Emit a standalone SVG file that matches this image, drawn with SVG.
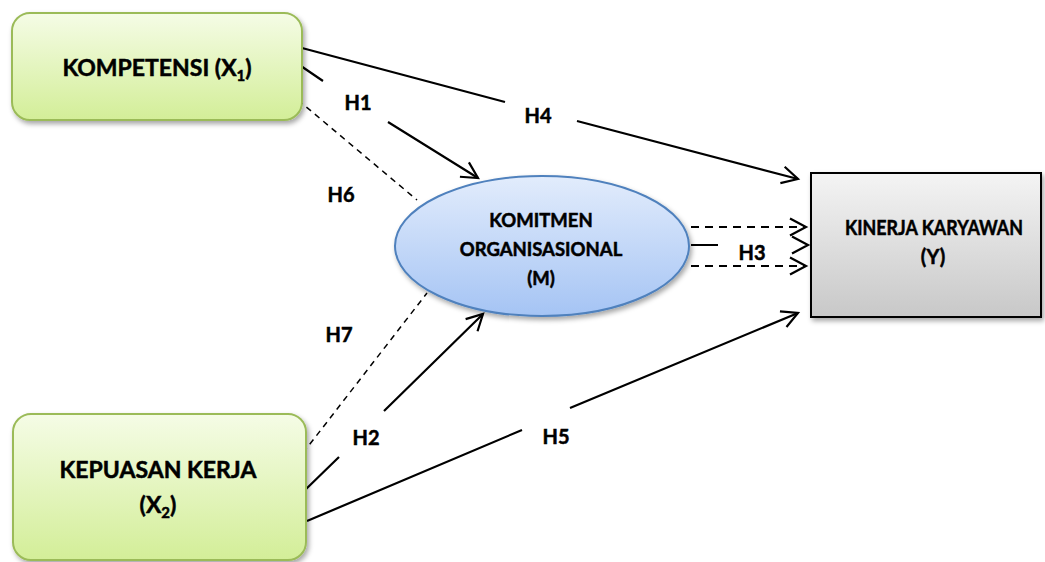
<svg xmlns="http://www.w3.org/2000/svg" width="1045" height="562" viewBox="0 0 1045 562">
<style>
  .lbl { font-family: Lato, "Liberation Sans", sans-serif; font-weight: bold; fill: #000; stroke: #000; stroke-width: 0.5; text-anchor: middle; }
  .h { font-size: 20px; }
  .big { font-size: 23px; }
  .mid { font-size: 18.5px; }
  .solid { fill: none; stroke: #000; stroke-width: 2.2; }
  .dash { fill: none; stroke: #000; stroke-width: 1.5; stroke-dasharray: 6 5; }
  .dash3 { fill: none; stroke: #000; stroke-width: 2; stroke-dasharray: 8 6; }
</style>
<defs>
  <linearGradient id="gGreen" x1="0" y1="0" x2="0" y2="1">
    <stop offset="0" stop-color="#f5fce6"/>
    <stop offset="1" stop-color="#d3ee98"/>
  </linearGradient>
  <linearGradient id="gBlue" x1="0" y1="0" x2="0" y2="1">
    <stop offset="0" stop-color="#e2ecfc"/>
    <stop offset="1" stop-color="#a5c4f4"/>
  </linearGradient>
  <linearGradient id="gGray" x1="0" y1="0" x2="0" y2="1">
    <stop offset="0" stop-color="#f4f4f4"/>
    <stop offset="1" stop-color="#c8c8c8"/>
  </linearGradient>
  <filter id="shadow" x="-10%" y="-10%" width="130%" height="140%">
    <feDropShadow dx="2" dy="3" stdDeviation="2.5" flood-color="#000" flood-opacity="0.35"/>
  </filter>
  <marker id="arrow" viewBox="-18 -11 21 22" refX="0" refY="0" markerWidth="21" markerHeight="22" markerUnits="userSpaceOnUse" orient="auto">
    <path d="M-16,-8.5 L0,0 L-16,8.5" fill="none" stroke="#000" stroke-width="2.2"/>
  </marker>
</defs>

<g id="connectors">
  <!-- H4 -->
  <path class="solid" d="M302,48 L505,102 M577,121 L798,179" marker-end="url(#arrow)"/>
  <!-- H1 -->
  <path class="solid" d="M298,64 L323,81 M388,122 L478,178" marker-end="url(#arrow)"/>
  <!-- H6 -->
  <path class="dash" d="M298,100 L417,200"/>
  <!-- H7 -->
  <path class="dash" d="M303,453 L427,293"/>
  <!-- H2 -->
  <path class="solid" d="M303,492 L339,457 M384,411 L483,314" marker-end="url(#arrow)"/>
  <!-- H5 -->
  <path class="solid" d="M307,521 L522,430 M570,408 L798,313" marker-end="url(#arrow)"/>
  <!-- H3 -->
  <path class="dash3" d="M691,227 L806,227" marker-end="url(#arrow)"/>
  <path class="solid" d="M691,245 L718,245 M806,245 L808,245" marker-end="url(#arrow)"/>
  <path class="dash3" d="M691,266 L806,266" marker-end="url(#arrow)"/>
</g>

<g id="node-x1">
  <rect x="12" y="13" width="290" height="107" rx="18" ry="18" fill="url(#gGreen)" stroke="#9bbb59" stroke-width="2" filter="url(#shadow)"/>
  <text class="lbl big" x="157" y="76">KOMPETENSI (X<tspan font-size="15" dy="5">1</tspan><tspan dy="-5">)</tspan></text>
</g>

<g id="node-x2">
  <rect x="13" y="414" width="293" height="146" rx="18" ry="18" fill="url(#gGreen)" stroke="#9bbb59" stroke-width="2" filter="url(#shadow)"/>
  <text class="lbl big" x="158" y="478">KEPUASAN KERJA</text>
  <text class="lbl big" x="158" y="513">(X<tspan font-size="15" dy="5">2</tspan><tspan dy="-5">)</tspan></text>
</g>

<g id="node-m">
  <ellipse cx="542" cy="246" rx="147" ry="70" fill="url(#gBlue)" stroke="#4f81bd" stroke-width="2" filter="url(#shadow)"/>
  <text class="lbl mid" x="541" y="227">KOMITMEN</text>
  <text class="lbl mid" x="541" y="256">ORGANISASIONAL</text>
  <text class="lbl mid" x="541" y="285">(M)</text>
</g>

<g id="node-y">
  <rect x="811" y="173" width="230" height="144" fill="url(#gGray)" stroke="#000" stroke-width="2" filter="url(#shadow)"/>
  <text class="lbl" font-size="20" x="934" y="235" textLength="178" lengthAdjust="spacingAndGlyphs">KINERJA KARYAWAN</text>
  <text class="lbl" font-size="20" x="933" y="264">(Y)</text>
</g>

<g id="labels">
  <text class="lbl h" x="358" y="110">H1</text>
  <text class="lbl h" x="366" y="445">H2</text>
  <text class="lbl h" x="752" y="260">H3</text>
  <text class="lbl h" x="538" y="123">H4</text>
  <text class="lbl h" x="556" y="444">H5</text>
  <text class="lbl h" x="341" y="202">H6</text>
  <text class="lbl h" x="339" y="342">H7</text>
</g>
</svg>
